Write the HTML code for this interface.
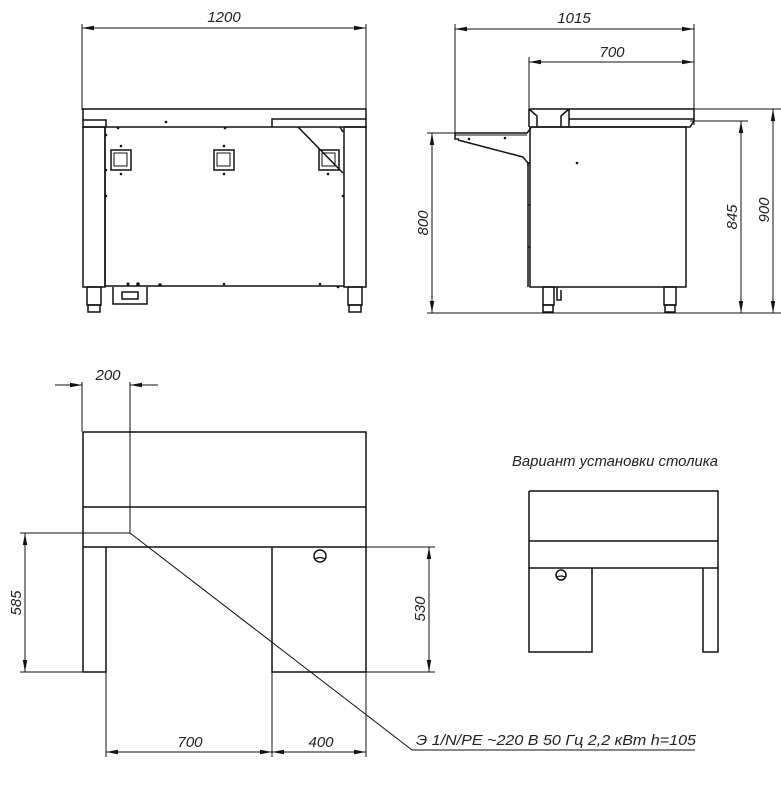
<!DOCTYPE html>
<html><head><meta charset="utf-8"><style>
html,body{margin:0;padding:0;background:#fff;}
svg{display:block;}
text{font-family:"Liberation Sans","DejaVu Sans",sans-serif;font-style:italic;fill:#222;font-size:15px;}
</style></head><body>
<svg width="781" height="785" viewBox="0 0 781 785" xmlns="http://www.w3.org/2000/svg">
<defs>
<marker id="a" viewBox="0 0 12 6" refX="12" refY="3" markerWidth="12" markerHeight="6" orient="auto-start-reverse" markerUnits="userSpaceOnUse"><path d="M0,0.8 L12,3 L0,5.2 Z" fill="#111"/></marker>
</defs>
<g stroke="#111" fill="none" stroke-width="1">
<!-- FRONT VIEW -->
<line x1="82" y1="24" x2="82" y2="110"/><line x1="366" y1="24" x2="366" y2="110"/>
<line x1="82" y1="28" x2="366" y2="28" marker-start="url(#a)" marker-end="url(#a)"/>
<g stroke-width="1.5">
<rect x="83" y="109" width="283" height="18"/>
<path d="M83,120 H106 V127"/><path d="M272,127 V119 H366"/>
<rect x="83" y="127" width="22" height="160"/>
<rect x="344" y="127" width="22" height="160"/>
<path d="M105,127 V286 H344"/>
<rect x="87" y="287" width="14" height="18"/><rect x="88" y="305" width="12" height="7"/>
<rect x="348" y="287" width="14" height="18"/><rect x="349" y="305" width="12" height="7"/>
<path d="M113,287 V304 H147 V287"/><rect x="122" y="292" width="16" height="7"/>
<rect x="111" y="150" width="20" height="20"/><rect x="114" y="153" width="13" height="13" stroke-width="1"/>
<rect x="214" y="150" width="20" height="20"/><rect x="217" y="153" width="13" height="13" stroke-width="1"/>
<rect x="319" y="150" width="20" height="20"/><rect x="322" y="153" width="13" height="13" stroke-width="1"/>
<line x1="298" y1="127" x2="343" y2="173"/><line x1="340" y1="127" x2="343" y2="132"/>
</g>
<g fill="#111" stroke="none">
<circle cx="166" cy="122" r="1.3"/><circle cx="118" cy="128" r="1.3"/><circle cx="225" cy="128" r="1.3"/>
<circle cx="121" cy="146" r="1.3"/><circle cx="121" cy="174" r="1.3"/><circle cx="224" cy="146" r="1.3"/><circle cx="224" cy="174" r="1.3"/><circle cx="328" cy="174" r="1.3"/>
<circle cx="106" cy="135" r="1.3"/><circle cx="106" cy="170" r="1.3"/><circle cx="106" cy="196" r="1.3"/><circle cx="343" cy="196" r="1.3"/>
<circle cx="128" cy="284" r="1.5"/><circle cx="138" cy="284" r="1.8"/><circle cx="160" cy="285" r="1.8"/><circle cx="224" cy="284" r="1.3"/><circle cx="320" cy="284" r="1.3"/><circle cx="338" cy="287" r="1.3"/>
</g>
<!-- SIDE VIEW -->
<line x1="455" y1="24" x2="455" y2="133"/><line x1="529" y1="57" x2="529" y2="108"/><line x1="694" y1="24" x2="694" y2="125"/>
<line x1="455" y1="29" x2="694" y2="29" marker-start="url(#a)" marker-end="url(#a)"/>
<line x1="529" y1="62" x2="694" y2="62" marker-start="url(#a)" marker-end="url(#a)"/>
<g stroke-width="1.5">
<path d="M529,127 V109 H694 V121 L690,127 H531"/>
<path d="M529,109 L537,116 V127 M569,109 L561,116 V127 M569,109 V127"/>
<path d="M569,119 H694"/>
<path d="M455,133 H527 L531,128 M455,133 V139 H459"/>
<line x1="455" y1="135" x2="527" y2="135" stroke-width="1"/>
<path d="M458,140 L523,157 L528,163 V166"/>
<rect x="530" y="127" width="156" height="160"/>
<path d="M530,163 H528 V205 H530 M530,205 H528 V247 H530 M530,247 H528 V287"/>
<rect x="543" y="287" width="11" height="18"/><rect x="543" y="305" width="10" height="7"/>
<rect x="664" y="287" width="12" height="18"/><rect x="665" y="305" width="10" height="7"/>
<path d="M557,287 V300 L561,300 V290"/>
</g>
<g fill="#111" stroke="none"><circle cx="577" cy="163" r="1.3"/><circle cx="469" cy="139" r="1.3"/><circle cx="505" cy="138" r="1.3"/></g>
<line x1="427" y1="313" x2="781" y2="313"/>
<line x1="427" y1="133" x2="455" y2="133"/>
<line x1="432" y1="133" x2="432" y2="313" marker-start="url(#a)" marker-end="url(#a)"/>
<line x1="690" y1="121" x2="748" y2="121"/>
<line x1="741" y1="121" x2="741" y2="313" marker-start="url(#a)" marker-end="url(#a)"/>
<line x1="694" y1="109" x2="781" y2="109"/>
<line x1="773" y1="109" x2="773" y2="313" marker-start="url(#a)" marker-end="url(#a)"/>
<!-- PLAN VIEW -->
<line x1="55" y1="385" x2="82" y2="385" marker-end="url(#a)"/>
<line x1="158" y1="385" x2="130" y2="385" marker-end="url(#a)"/>
<line x1="82" y1="382" x2="82" y2="432"/><line x1="130" y1="382" x2="130" y2="533"/>
<g stroke-width="1.5">
<rect x="83" y="432" width="283" height="240" stroke="none"/>
<path d="M83,432 H366 V672 M83,432 V672 H106 V547"/>
<line x1="83" y1="507" x2="366" y2="507"/>
<line x1="83" y1="547" x2="366" y2="547"/>
<path d="M272,547 V672 H366"/>
<circle cx="320" cy="556" r="6"/><path d="M315,559 Q320,556 325,559" stroke-width="1.2"/>
</g>
<line x1="366" y1="547" x2="435" y2="547"/>
<line x1="20" y1="533" x2="130" y2="533"/>
<line x1="20" y1="672" x2="83" y2="672"/>
<line x1="366" y1="672" x2="435" y2="672"/>
<line x1="25" y1="533" x2="25" y2="672" marker-start="url(#a)" marker-end="url(#a)"/>
<line x1="429" y1="547" x2="429" y2="672" marker-start="url(#a)" marker-end="url(#a)"/>
<line x1="106" y1="672" x2="106" y2="757"/><line x1="272" y1="672" x2="272" y2="757"/><line x1="366" y1="672" x2="366" y2="757"/>
<line x1="106" y1="752" x2="272" y2="752" marker-start="url(#a)" marker-end="url(#a)"/>
<line x1="272" y1="752" x2="366" y2="752" marker-start="url(#a)" marker-end="url(#a)"/>
<path d="M130,533 L412,750 H695"/>
<!-- VARIANT -->
<g stroke-width="1.5">
<path d="M529,491 H718 V568 M529,491 V652 H592 V568"/>
<line x1="529" y1="541" x2="718" y2="541"/>
<line x1="529" y1="568" x2="718" y2="568"/>
<path d="M703,568 V652 H718 V568"/>
<circle cx="561" cy="575" r="5"/><path d="M557,577 Q561,575 565,577" stroke-width="1.2"/>
</g>
</g>
<text x="224" y="22" text-anchor="middle">1200</text>
<text x="574" y="23" text-anchor="middle">1015</text>
<text x="612" y="57" text-anchor="middle">700</text>
<text transform="translate(428,223) rotate(-90)" text-anchor="middle">800</text>
<text transform="translate(737,217) rotate(-90)" text-anchor="middle">845</text>
<text transform="translate(769,210) rotate(-90)" text-anchor="middle">900</text>
<text x="108" y="380" text-anchor="middle">200</text>
<text transform="translate(21,603) rotate(-90)" text-anchor="middle">585</text>
<text transform="translate(425,609) rotate(-90)" text-anchor="middle">530</text>
<text x="190" y="747" text-anchor="middle">700</text>
<text x="321" y="747" text-anchor="middle">400</text>
<text x="416" y="745" font-size="14.5" textLength="280" lengthAdjust="spacingAndGlyphs">Э 1/N/PE ~220 В 50 Гц 2,2 кВт h=105</text>
<text x="512" y="466" font-size="14.5" textLength="206" lengthAdjust="spacingAndGlyphs">Вариант установки столика</text>
</svg>
</body></html>
